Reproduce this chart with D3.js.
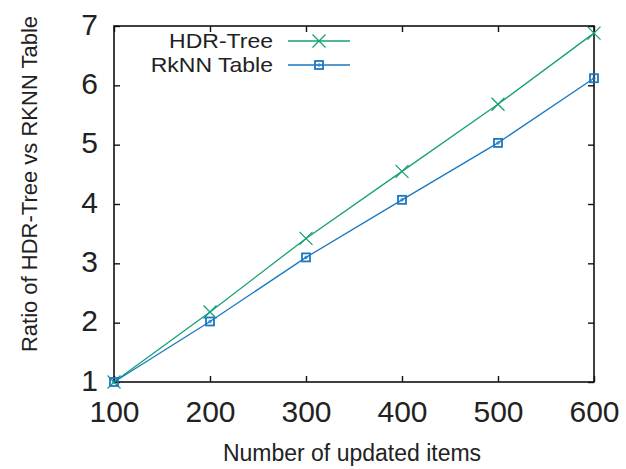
<!DOCTYPE html>
<html>
<head>
<meta charset="utf-8">
<script src="https://cdn.jsdelivr.net/npm/d3@7"></script>
<style>
  body { margin: 0; background: #fff; }
  svg text { font-family: "Liberation Sans", Arial, sans-serif; fill: #222; }
</style>
</head>
<body>
<svg id="canvas" width="626" height="469"></svg>
<script>
// chart data
let items = [100, 200, 300, 400, 500, 600]
let hdrTree = [1, 2.18, 3.42, 4.55, 5.68, 6.88]
let rknnTable = [1, 2.02, 3.1, 4.07, 5.03, 6.12]
let yTicks = [1, 2, 3, 4, 5, 6, 7]
let seriesNames = ['HDR-Tree', 'RkNN Table']

let green = '#16a077'
let blue = '#1a78c2'

let plotLeft = 114, plotRight = 594, plotTop = 26, plotBottom = 382

let svg = d3.select('#canvas')

let xScale = d3.scaleLinear().domain([100, 600]).range([plotLeft, plotRight])
let yScale = d3.scaleLinear().domain([1, 7]).range([plotBottom, plotTop])

// axes with inward ticks, labels drawn by the axis generator
let xAxis = d3.axisBottom(xScale).tickValues(items).tickSize(-6).tickPadding(14).tickFormat(d3.format('d'))
let yAxis = d3.axisLeft(yScale).tickValues(yTicks).tickSize(-6).tickPadding(16).tickFormat(d3.format('d'))

let gx = svg.append('g').attr('transform', 'translate(0,' + plotBottom + ')').call(xAxis)
let gy = svg.append('g').attr('transform', 'translate(' + plotLeft + ',0)').call(yAxis)

// mirrored ticks on top and right
svg.append('g').attr('transform', 'translate(0,' + plotTop + ')')
   .call(d3.axisTop(xScale).tickValues(items).tickSize(-6).tickFormat(''))
svg.append('g').attr('transform', 'translate(' + plotRight + ',0)')
   .call(d3.axisRight(yScale).tickValues(yTicks).tickSize(-6).tickFormat(''))

svg.selectAll('.domain').remove()
svg.selectAll('.tick line').attr('stroke', '#111').attr('stroke-width', 1.4)

gx.selectAll('text')
  .attr('font-size', 30)
  .attr('dy', null)
  .attr('y', 40)
  .style('fill', '#222')
gy.selectAll('text')
  .attr('font-size', 30)
  .attr('dy', null)
  .attr('y', 8)
  .style('fill', '#222')

svg.selectAll('.tick text').attr('font-family', '"Liberation Sans", Arial, sans-serif')

// plot border
svg.append('rect')
   .attr('x', plotLeft).attr('y', plotTop)
   .attr('width', plotRight - plotLeft).attr('height', plotBottom - plotTop)
   .attr('fill', 'none').attr('stroke', '#111').attr('stroke-width', 1.6)

let line = d3.line()
  .x((d, i) => xScale(items[i]))
  .y(d => yScale(d))

let crossPath = (cx, cy, r) =>
  'M' + (cx - r) + ',' + (cy - r) + 'L' + (cx + r) + ',' + (cy + r) +
  'M' + (cx - r) + ',' + (cy + r) + 'L' + (cx + r) + ',' + (cy - r)

let drawCross = (g, cx, cy) => {
  g.append('path').attr('d', crossPath(cx, cy, 6.5))
   .attr('stroke', green).attr('stroke-width', 1.3).attr('fill', 'none')
}
let drawSquare = (g, cx, cy) => {
  g.append('rect').attr('x', cx - 4).attr('y', cy - 4).attr('width', 8).attr('height', 8)
   .attr('stroke', blue).attr('stroke-width', 1.8).attr('fill', 'none')
  g.append('circle').attr('cx', cx).attr('cy', cy).attr('r', 1.3)
   .attr('stroke', blue).attr('stroke-width', 0.8).attr('fill', 'none')
}

svg.append('path').datum(hdrTree).attr('d', line)
   .attr('fill', 'none').attr('stroke', green).attr('stroke-width', 1.3)
svg.append('path').datum(rknnTable).attr('d', line)
   .attr('fill', 'none').attr('stroke', blue).attr('stroke-width', 1.3)

let marks = svg.append('g')
hdrTree.forEach((v, i) => drawCross(marks, xScale(items[i]), yScale(v)))
rknnTable.forEach((v, i) => drawSquare(marks, xScale(items[i]), yScale(v)))

// legend (text stretched sideways a little, like the gnuplot output)
let legend = svg.append('g')
let legendY = [41, 65]
seriesNames.forEach((name, i) => {
  let y = legendY[i]
  let color = i === 0 ? green : blue
  legend.append('text').text(name)
    .attr('transform', 'translate(273,' + (y + 7) + ') scale(1.15,1)')
    .attr('text-anchor', 'end').attr('font-size', 20)
  legend.append('line')
    .attr('x1', 288).attr('x2', 350).attr('y1', y).attr('y2', y)
    .attr('stroke', color).attr('stroke-width', 1.3)
  if (i === 0) drawCross(legend, 319, y)
  else drawSquare(legend, 319, y)
})

// axis titles
svg.append('text').text('Number of updated items')
   .attr('x', 352).attr('y', 461)
   .attr('text-anchor', 'middle').attr('font-size', 23)

svg.append('text').text('Ratio of HDR-Tree vs RKNN Table')
   .attr('transform', 'translate(37,184) rotate(-90)')
   .attr('text-anchor', 'middle').attr('font-size', 22)
</script>
</body>
</html>
